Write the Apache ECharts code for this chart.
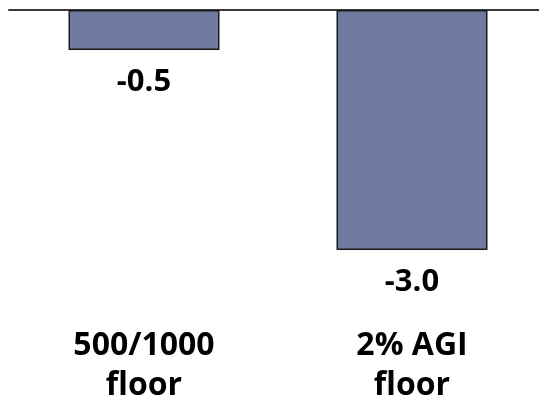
<!DOCTYPE html>
<html>
<head>
<meta charset="utf-8">
<script src="https://cdn.jsdelivr.net/npm/echarts@6/dist/echarts.min.js"></script>
<style>
  html, body { margin: 0; padding: 0; background: #fff; }
  #chart { width: 539px; height: 401px; }
</style>
</head>
<body>
<div id="chart"></div>
<script>
// Change by floor option
const categories = ['500/1000\nfloor', '2% AGI\nfloor'];
const values = [-0.5, -3.0];
const valueMin = -3;
const valueMax = 0;

const chart = echarts.init(document.getElementById('chart'), null, { renderer: 'canvas' });

const fontFamily = '"Open Sans", "Noto Sans", sans-serif';

chart.setOption({
  animation: false,
  backgroundColor: '#ffffff',
  grid: [
    { left: 10, width: 536, top: 10, height: 240, outerBoundsMode: 'none', containLabel: false },
    { left: 9, right: 0, top: 10, height: 240, outerBoundsMode: 'none', containLabel: false }
  ],
  xAxis: [
    {
      // category labels below the plot
      type: 'category',
      gridIndex: 0,
      data: categories,
      position: 'bottom',
      axisLine: { show: false, onZero: false },
      axisTick: { show: false },
      axisLabel: {
        margin: 76,
        fontFamily: fontFamily,
        fontWeight: 'bold',
        fontSize: 32,
        lineHeight: 40,
        color: '#000'
      }
    },
    {
      // zero line across the top
      type: 'category',
      gridIndex: 1,
      data: categories,
      position: 'top',
      axisLine: { show: true, onZero: false, lineStyle: { color: '#3a3a3a', width: 2 } },
      axisTick: { show: false },
      axisLabel: { show: false }
    }
  ],
  yAxis: [
    { type: 'value', gridIndex: 0, min: valueMin, max: valueMax, show: false },
    { type: 'value', gridIndex: 1, min: valueMin, max: valueMax, show: false }
  ],
  series: [
    {
      type: 'bar',
      xAxisIndex: 0,
      yAxisIndex: 0,
      data: values,
      barWidth: 151,
      itemStyle: {
        color: '#717ba0',
        borderColor: '#1a1a1a',
        borderWidth: 1.5
      },
      label: {
        show: true,
        position: 'bottom',
        distance: 17,
        formatter: p => p.value.toFixed(1),
        fontFamily: fontFamily,
        fontWeight: 'bold',
        fontSize: 31,
        color: '#000'
      }
    }
  ]
});
</script>
</body>
</html>
